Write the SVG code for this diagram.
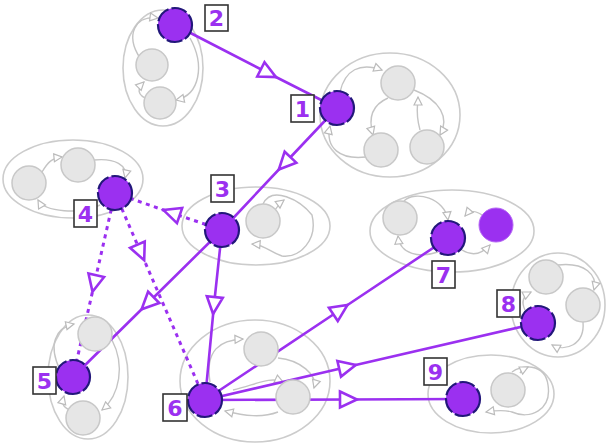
<svg xmlns="http://www.w3.org/2000/svg" width="606" height="448" viewBox="0 0 606 448">
<defs>
<marker id="ah" markerUnits="userSpaceOnUse" markerWidth="26" markerHeight="26" viewBox="-13 -13 26 26" refX="0" refY="0" orient="auto">
<path d="M-8,-8 L9,0 L-8,8 z" fill="#fff" stroke="#9b30f0" stroke-width="2.6" stroke-linejoin="miter"/>
</marker>
<marker id="gh" markerUnits="userSpaceOnUse" markerWidth="14" markerHeight="14" viewBox="-7 -7 14 14" refX="4" refY="0" orient="auto">
<path d="M-4,-4 L4,0 L-4,4 z" fill="#fff" stroke="#bbbbbb" stroke-width="1.2"/>
</marker>
</defs>
<style>
.cl{fill:none;stroke:#cccccc;stroke-width:1.6}
.ie{fill:none;stroke:#c4c4c4;stroke-width:1.4;marker-end:url(#gh)}
.g{fill:#e6e6e6;stroke:#c8c8c8;stroke-width:1.5}
.p{fill:#9b30f0;stroke:#22177a;stroke-width:2.2;stroke-dasharray:16 3}
.pp{fill:#9b30f0;stroke:#b566f5;stroke-width:1}
.e{fill:none;stroke:#9b30f0;stroke-width:2.6;marker-mid:url(#ah)}
.d{stroke-dasharray:4 4.5;stroke-width:3}
.lb{fill:#fff;stroke:#333;stroke-width:1.6}
.lt{font-family:"DejaVu Sans",sans-serif;font-weight:bold;font-size:22px;fill:#9b30f0;text-anchor:middle}
</style>
<g id="clusters">
<ellipse class="cl" cx="163" cy="68" rx="40" ry="58"/>
<ellipse class="cl" cx="390" cy="115" rx="70" ry="62"/>
<ellipse class="cl" cx="73" cy="179" rx="70" ry="39"/>
<ellipse class="cl" cx="256" cy="226" rx="74" ry="39"/>
<ellipse class="cl" cx="452" cy="231" rx="82" ry="41"/>
<ellipse class="cl" cx="558" cy="305" rx="47" ry="52"/>
<ellipse class="cl" cx="88" cy="377" rx="40" ry="62"/>
<ellipse class="cl" cx="255" cy="381" rx="75" ry="61"/>
<ellipse class="cl" cx="491" cy="394" rx="63" ry="39"/>
</g>
<g id="inner-edges">
<path class="ie" d="M140,58 C125,35 135,15 158,18"/>
<path class="ie" d="M150,100 C135,95 138,88 144,82"/>
<path class="ie" d="M190,38 C205,65 200,95 176,100"/>
<path class="ie" d="M340,92 C345,70 360,62 382,70"/>
<path class="ie" d="M414,90 C440,100 450,118 440,135"/>
<path class="ie" d="M420,130 C415,112 418,105 418,97"/>
<path class="ie" d="M388,98 C372,105 368,118 373,135"/>
<path class="ie" d="M366,157 C340,160 325,148 330,126"/>
<path class="ie" d="M42,172 C48,162 52,158 62,157"/>
<path class="ie" d="M94,160 C115,158 128,165 125,178"/>
<path class="ie" d="M100,205 C80,215 45,212 38,200"/>
<path class="ie" d="M263,204 C272,185 300,200 312,215 C318,240 300,258 282,256 C270,252 265,245 252,244"/>
<path class="ie" d="M275,210 C278,205 280,203 284,200"/>
<path class="ie" d="M404,201 C415,190 445,198 448,220"/>
<path class="ie" d="M438,252 C420,258 400,255 398,236"/>
<path class="ie" d="M482,215 C475,210 470,210 465,216"/>
<path class="ie" d="M462,250 C470,255 480,256 490,245"/>
<path class="ie" d="M558,265 C585,262 598,275 594,290"/>
<path class="ie" d="M525,310 C520,300 525,295 531,292"/>
<path class="ie" d="M583,322 C585,345 565,352 552,345"/>
<path class="ie" d="M60,370 C48,345 55,328 74,324"/>
<path class="ie" d="M70,410 C62,407 62,403 64,396"/>
<path class="ie" d="M112,340 C125,365 120,395 102,410"/>
<path class="ie" d="M210,382 C205,350 220,340 243,339"/>
<path class="ie" d="M278,358 C300,360 318,375 314,388"/>
<path class="ie" d="M278,412 C262,418 245,416 225,411"/>
<path class="ie" d="M233,390 C255,385 270,376 283,382"/>
<path class="ie" d="M512,372 C520,365 545,362 548,385 C552,410 530,420 512,412 C505,410 498,410 486,412"/>
<path class="ie" d="M520,373 C522,370 524,369 528,367"/>
</g>
<g id="connectors">
<path class="e" d="M175,25 L268,73 L337,108"/>
<path class="e" d="M337,108 L285,163 L222,230"/>
<path class="e d" d="M222,230 L172,213 L115,193"/>
<path class="e d" d="M115,193 L94.5,283 L73,377"/>
<path class="e d" d="M115,193 L140.6,252 L205,400"/>
<path class="e" d="M222,230 L148,303 L73,377"/>
<path class="e" d="M222,230 L214,305 L205,400"/>
<path class="e" d="M205,400 L340,310 L448,238"/>
<path class="e" d="M205,400 L347,367 L538,323"/>
<path class="e" d="M205,400 L348,399.5 L463,399"/>
</g>
<g id="gray-nodes">
<circle class="g" cx="152" cy="65" r="16"/>
<circle class="g" cx="160" cy="103" r="16"/>
<circle class="g" cx="398" cy="83" r="17"/>
<circle class="g" cx="381" cy="150" r="17"/>
<circle class="g" cx="427" cy="147" r="17"/>
<circle class="g" cx="29" cy="183" r="17"/>
<circle class="g" cx="78" cy="165" r="17"/>
<circle class="g" cx="263" cy="221" r="17"/>
<circle class="g" cx="400" cy="218" r="17"/>
<circle class="g" cx="546" cy="277" r="17"/>
<circle class="g" cx="583" cy="305" r="17"/>
<circle class="g" cx="95" cy="334" r="17"/>
<circle class="g" cx="83" cy="418" r="17"/>
<circle class="g" cx="261" cy="349" r="17"/>
<circle class="g" cx="293" cy="397" r="17"/>
<circle class="g" cx="508" cy="390" r="17"/>
<circle class="pp" cx="496" cy="225" r="17"/>
</g>
<g id="n1"><circle class="p" cx="337" cy="108" r="17"/><rect class="lb" x="291" y="95" width="23" height="27"/><text class="lt" x="302.5" y="116.5">1</text></g>
<g id="n2"><circle class="p" cx="175" cy="25" r="17"/><rect class="lb" x="205" y="5" width="23" height="26"/><text class="lt" x="216.5" y="26">2</text></g>
<g id="n3"><circle class="p" cx="222" cy="230" r="17"/><rect class="lb" x="211" y="175" width="23" height="27"/><text class="lt" x="222.5" y="196.5">3</text></g>
<g id="n4"><circle class="p" cx="115" cy="193" r="17"/><rect class="lb" x="74" y="200" width="23" height="27"/><text class="lt" x="85.5" y="221.5">4</text></g>
<g id="n5"><circle class="p" cx="73" cy="377" r="17"/><rect class="lb" x="33" y="367" width="23" height="27"/><text class="lt" x="44.5" y="388.5">5</text></g>
<g id="n6"><circle class="p" cx="205" cy="400" r="17"/><rect class="lb" x="163" y="394" width="24" height="27"/><text class="lt" x="175" y="415.5">6</text></g>
<g id="n7"><circle class="p" cx="448" cy="238" r="17"/><rect class="lb" x="432" y="261" width="23" height="27"/><text class="lt" x="443.5" y="282.5">7</text></g>
<g id="n8"><circle class="p" cx="538" cy="323" r="17"/><rect class="lb" x="497" y="290" width="23" height="27"/><text class="lt" x="508.5" y="311.5">8</text></g>
<g id="n9"><circle class="p" cx="463" cy="399" r="17"/><rect class="lb" x="424" y="358" width="23" height="27"/><text class="lt" x="435.5" y="379.5">9</text></g>
</svg>
